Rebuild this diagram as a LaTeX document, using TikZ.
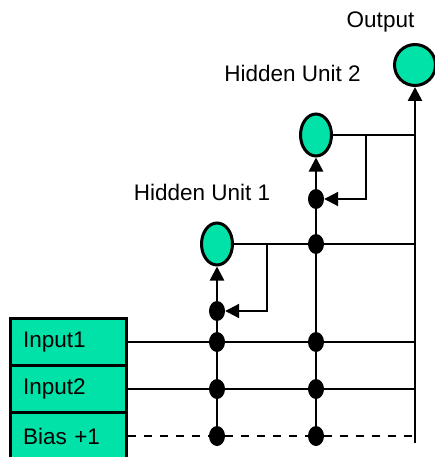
\documentclass[tikz,border=0pt]{standalone}
\usepackage{fontspec}
\setmainfont{Liberation Sans}
\usetikzlibrary{arrows.meta,shapes.geometric}
\definecolor{unitgreen}{RGB}{0,226,168}

\begin{document}
\begin{tikzpicture}[x=1pt,y=-1pt,
  every node/.style={font=\fontsize{22.5}{27}\selectfont},
  inbox/.style={draw,line width=3pt,fill=unitgreen,minimum height=47pt,text width=90pt,inner xsep=13pt,align=left},
  hunit/.style={draw,ellipse,line width=3pt,fill=unitgreen,minimum width=31pt,minimum height=42pt,inner sep=0pt},
  joint/.style={ellipse,fill=black,minimum width=16pt,minimum height=20pt,inner sep=0pt},
  hline/.style={line width=1.8pt},
  vline/.style={line width=2.6pt,-{Triangle[length=14pt,width=14pt]}},
  fb/.style={line width=2pt,-{Triangle[length=14pt,width=14pt]}}]
\useasboundingbox (0,0) rectangle (435,457);

% inputs
\node[inbox] (in1) at (68,342) {Input1};
\node[inbox] (in2) at (68,389) {Input2};
\node[inbox] (bias) at (68,436) {Bias +1};

% units
\node[hunit] (h1) at (217,244) {};
\node[hunit] (h2) at (316,135) {};
\node[hunit,circle,minimum size=41pt] (out) at (415,65) {};
\node[anchor=base] (lh1) at (202,200.5) {Hidden Unit 1};
\node[anchor=base] (lh2) at (292.5,82) {Hidden Unit 2};
\node[anchor=base] (lout) at (380.5,28) {Output};

% joints
\node[joint] (a0) at (217,311) {};
\node[joint] (a1) at (217,342) {};
\node[joint] (a2) at (217,389) {};
\node[joint] (a3) at (217,436) {};
\node[joint] (b0) at (316,199) {};
\node[joint] (bh) at (316,244) {};
\node[joint] (b1) at (316,342) {};
\node[joint] (b2) at (316,389) {};
\node[joint] (b3) at (316,436) {};
\coordinate (c0) at (415,443);
\coordinate (c1) at (415,342);
\coordinate (c2) at (415,389);
\coordinate (c3) at (415,436);
\coordinate (ch1) at (415,244);
\coordinate (ch2) at (415,135);
\coordinate (f1) at (267,244);
\coordinate (f2) at (366,135);

\draw[hline] (in1) -- (a1) -- (b1) -- (c1);
\draw[hline] (in2) -- (a2) -- (b2) -- (c2);
\draw[hline,dash pattern=on 8pt off 8pt] (bias) -- (a3) -- (b3) -- (c3);
\draw[hline] (h1) -- (f1) -- (bh) -- (ch1);
\draw[hline] (h2) -- (f2) -- (ch2);
\draw[fb] (f1) |- (a0);
\draw[fb] (f2) |- (b0);

\draw[vline] (a3) -- (a2) -- (a1) -- (a0) -- (h1);
\draw[vline] (b3) -- (b2) -- (b1) -- (bh) -- (b0) -- (h2);
\draw[vline] (c0) -- (out);
\end{tikzpicture}
\end{document}
